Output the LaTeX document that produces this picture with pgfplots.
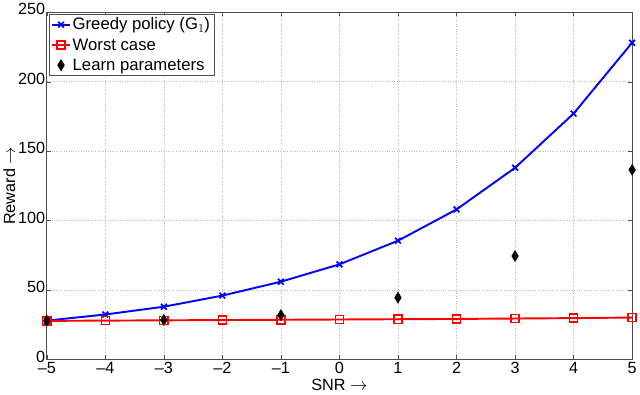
\documentclass[border=0pt]{standalone}
\usepackage{pgfplots}
\pgfplotsset{compat=1.18}
\usepackage{fontspec}
\setmainfont{Liberation Sans}
\definecolor{gridgray}{RGB}{190,190,190}
\begin{document}
\begin{tikzpicture}
\begin{axis}[
  scale only axis, width=578pt, height=343pt,
  xmin=-5, xmax=5, ymin=0, ymax=250,
  xtick={-5,...,5}, ytick={0,50,...,250},
  xticklabels={--5,--4,--3,--2,--1,0,1,2,3,4,5},
  /pgf/number format/assume math mode=true,
  tick label style={font=\fontsize{16}{17}\selectfont},
  xticklabel style={yshift=1pt},
  yticklabel style={xshift=2pt, yshift=3pt},
  label style={font=\fontsize{16}{17}\selectfont},
  xlabel={SNR $\rightarrow$}, ylabel={Reward $\rightarrow$},
  xlabel style={yshift=1pt}, ylabel style={yshift=-4pt},
  xmajorgrids, ymajorgrids,
  grid style={gridgray, dotted, line width=0.6pt},
  axis line style={black!70, line width=0.6pt},
  tick style={black!70},
  major tick length=4pt,
  tick align=inside,
  legend style={font=\fontsize{16.5}{19}\selectfont, draw=black!70, line width=0.6pt,
    at={(0.004,0.996)}, anchor=north west, inner sep=2pt, row sep=3pt,
    /tikz/every even column/.append style={column sep=2pt}},
  legend cell align=left,
]
\addplot[blue, line width=1.9pt, mark=x, mark size=4pt, mark options={line width=1.7pt}]
  coordinates {(-5,28) (-4,32.4) (-3,38) (-2,46) (-1,56) (0,68.5) (1,85.5) (2,108) (3,138) (4,177) (5,228)};
\addlegendentry{Greedy policy (G$_1$)}
\addplot[red, line width=1.9pt, mark=square, mark size=4pt, mark options={line width=1.4pt}]
  coordinates {(-5,27.8) (-4,28) (-3,28.2) (-2,28.4) (-1,28.6) (0,28.8) (1,29) (2,29.2) (3,29.5) (4,29.8) (5,30.2)};
\addlegendentry{Worst case}
\addplot[only marks, black, mark=diamond*, mark size=5.5pt, mark options={xscale=0.8}]
  coordinates {(-5,28) (-3,28.5) (-1,32) (1,44.5) (3,74.5) (5,136.5)};
\addlegendentry{Learn parameters}
\end{axis}
\end{tikzpicture}
\end{document}
